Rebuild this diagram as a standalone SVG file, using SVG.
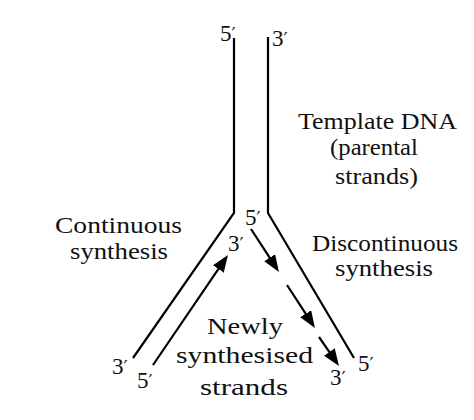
<svg xmlns="http://www.w3.org/2000/svg" width="474" height="420" viewBox="0 0 474 420">
<style>
.ln{fill:none;stroke:#000;stroke-width:2.2;stroke-linejoin:miter}
.ar{fill:none;stroke:#000;stroke-width:2.2}
.t{font-family:"Liberation Serif","Times New Roman",serif;font-size:23px;fill:#111;text-anchor:middle}
.e{font-family:"Liberation Serif","Times New Roman",serif;font-size:23px;fill:#111}
.p{font-family:"DejaVu Serif",serif;font-size:18px}
</style>
<defs>
<marker id="ah" viewBox="0 0 17 13" refX="5" refY="6.5" markerWidth="17" markerHeight="13" orient="auto" markerUnits="userSpaceOnUse">
<path d="M0,0 L17,6.5 L0,13 z" fill="#000"/>
</marker>
</defs>
<rect width="474" height="420" fill="#fff"/>
<g id="connectors">
<polyline id="parental-left" class="ln" points="234,38 234,213 133,358"/>
<polyline id="parental-right" class="ln" points="268,37 268,213 354,358"/>
<line id="leading" class="ar" x1="153" y1="365" x2="221.2" y2="264.9" marker-end="url(#ah)"/>
<line id="lag1" class="ar" x1="251" y1="229" x2="272.4" y2="261.9" marker-end="url(#ah)"/>
<line id="lag2" class="ar" x1="287" y1="285" x2="308.4" y2="317.9" marker-end="url(#ah)"/>
<line id="lag3" class="ar" x1="319" y1="337" x2="332.2" y2="356.1" marker-end="url(#ah)"/>
</g>
<g id="ends">
<text class="e" x="220" y="41">5<tspan class="p">′</tspan></text>
<text class="e" x="272" y="46">3<tspan class="p">′</tspan></text>
<text class="e" x="245" y="225">5<tspan class="p">′</tspan></text>
<text class="e" x="228" y="251">3<tspan class="p">′</tspan></text>
<text class="e" x="112" y="374">3<tspan class="p">′</tspan></text>
<text class="e" x="137" y="388">5<tspan class="p">′</tspan></text>
<text class="e" x="330" y="385">3<tspan class="p">′</tspan></text>
<text class="e" x="358" y="371">5<tspan class="p">′</tspan></text>
</g>
<g id="template-label">
<text class="t" x="377.5" y="129" textLength="159" lengthAdjust="spacingAndGlyphs">Template DNA</text>
<text class="t" x="374" y="155" textLength="88" lengthAdjust="spacingAndGlyphs">(parental</text>
<text class="t" x="376.5" y="184" textLength="83" lengthAdjust="spacingAndGlyphs">strands)</text>
</g>
<g id="continuous-label">
<text class="t" x="118.5" y="233" textLength="127" lengthAdjust="spacingAndGlyphs">Continuous</text>
<text class="t" x="119" y="259" textLength="98" lengthAdjust="spacingAndGlyphs">synthesis</text>
</g>
<g id="discontinuous-label">
<text class="t" x="385" y="251" textLength="146" lengthAdjust="spacingAndGlyphs">Discontinuous</text>
<text class="t" x="384" y="276" textLength="98" lengthAdjust="spacingAndGlyphs">synthesis</text>
</g>
<g id="newly-label">
<text class="t" x="245" y="334" textLength="76" lengthAdjust="spacingAndGlyphs">Newly</text>
<text class="t" x="244.5" y="363" textLength="137" lengthAdjust="spacingAndGlyphs">synthesised</text>
<text class="t" x="244" y="395" textLength="88" lengthAdjust="spacingAndGlyphs">strands</text>
</g>
</svg>
